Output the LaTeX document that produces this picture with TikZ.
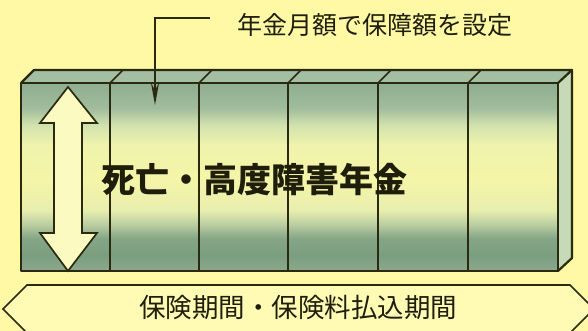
\documentclass[tikz,border=0pt]{standalone}
\usepackage{fontspec}
\newfontfamily\cjk{Noto Sans CJK JP}
\usetikzlibrary{arrows.meta}
\definecolor{bg}{HTML}{FFF9A6}
\definecolor{ink}{HTML}{2A2A10}
\definecolor{txt}{HTML}{1E1E0A}
\definecolor{sA}{HTML}{8CA88C}
\definecolor{sB}{HTML}{7A9E80}
\definecolor{sC}{HTML}{86A786}
\definecolor{sD}{HTML}{B8CCA0}
\definecolor{sE}{HTML}{E8EEAE}
\definecolor{sF}{HTML}{F5F5A8}
\definecolor{sG}{HTML}{F0F3AC}
\definecolor{sH}{HTML}{D2E2AE}
\definecolor{sI}{HTML}{A0BC9C}
\definecolor{sJ}{HTML}{8FAE90}
\definecolor{topface}{HTML}{A3BEA0}
\definecolor{sideface}{HTML}{C6DAB8}
\definecolor{arrowfill}{HTML}{FBFAC0}
\definecolor{bannerfill}{HTML}{FFFBB4}
\pgfdeclareverticalshading{boxshade}{100bp}{color(0bp)=(sA); color(25bp)=(sA); color(29.3bp)=(sB); color(33.8bp)=(sC); color(37.2bp)=(sD); color(41.2bp)=(sE); color(49.2bp)=(sF); color(58.5bp)=(sG); color(63.8bp)=(sH); color(68.4bp)=(sI); color(75bp)=(sJ); color(100bp)=(sJ)}
\tikzset{
  outline/.style={draw=ink, line width=2.2pt, line join=round},
  divider/.style={draw=ink, line width=1.5pt},
  label/.style={font=\cjk, text=txt, inner sep=0pt},
}
\begin{document}
\begin{tikzpicture}[x=1pt,y=-1pt]
\useasboundingbox (0,0) rectangle (588,331);
\clip (0,0) rectangle (588,331);
\fill[bg] (0,0) rectangle (588,331);
% front face
\path[shading=boxshade] (21,83) rectangle (558,271);
% top face
\path[fill=topface] (21,83) -- (34,70) -- (572,70) -- (558,83) -- cycle;
% right face
\path[fill=sideface] (558,83) -- (572,70) -- (572,258) -- (558,271) -- cycle;
% dividers
\foreach \x in {110,199,288,378,468} {
  \draw[divider] (\x,83) -- (\x,271);
  \draw[divider] (\x,83) -- (\x+13,70);
}
\draw[outline] (21,83) rectangle (558,271);
\draw[outline] (21,83) -- (34,70) -- (572,70) -- (558,83);
\draw[outline] (572,70) -- (572,258) -- (558,271);
% double arrow
\draw[draw=ink, line width=1.7pt, fill=arrowfill, line join=miter]
  (68,87) -- (97,123) -- (82,123) -- (82,233) -- (97,233) -- (68,271)
  -- (40,233) -- (54,233) -- (54,123) -- (40,123) -- cycle;
% main text
\node[label, font=\cjk\bfseries\fontsize{34}{38}\selectfont] (main) at (254.5,180) {死亡・高度障害年金};
% annotation
\node[label, font=\cjk\fontsize{25}{28}\selectfont] (note) at (375,25) {年金月額で保障額を設定};
\coordinate (lineend) at (210,18);
\coordinate (tip) at (155,105);
\draw[draw=ink, line width=2.2pt, -{Stealth[length=22pt,width=8pt]}] (lineend) -| (tip);
% banner
\draw[draw=ink, line width=1.6pt, fill=bannerfill, line join=miter]
  (27,285) -- (570,285) -- (594,309) -- (570,333) -- (27,333) -- (3,309) -- cycle;
\node[label, font=\cjk\fontsize{26.5}{30}\selectfont] (period) at (298,307) {保険期間・保険料払込期間};
\end{tikzpicture}
\end{document}
